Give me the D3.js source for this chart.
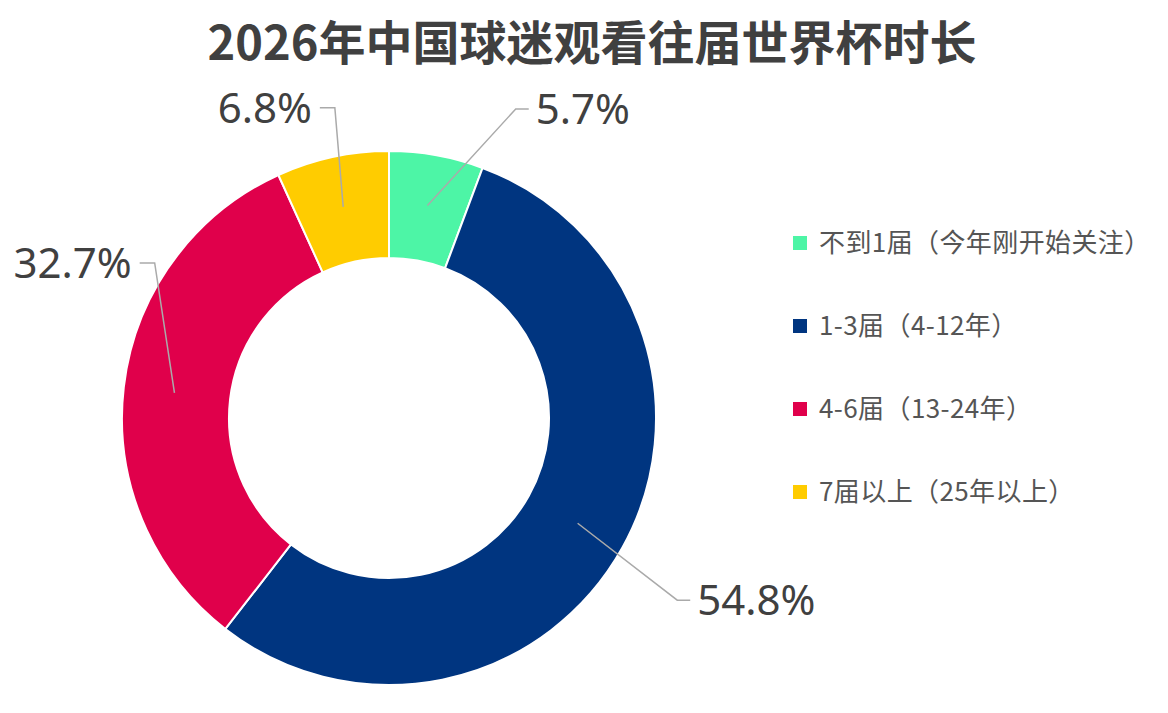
<!DOCTYPE html>
<html>
<head>
<meta charset="utf-8">
<script src="https://cdn.jsdelivr.net/npm/d3@7"></script>
<style>
  body { margin: 0; background: #fff; }
  svg { display: block; }
</style>
</head>
<body>
<div id="chart"></div>
<script>
// chart values
const categories = ['不到1届（今年刚开始关注）', '1-3届（4-12年）', '4-6届（13-24年）', '7届以上（25年以上）'];
const shares = [5.7, 54.8, 32.7, 6.8];
const colors = ['#4DF5A6', '#003580', '#E0004B', '#FFCC00'];

// where each label's leader line bends (degrees from 12 o'clock, radius in px)
const labelBend = [
    { angle: 22.3, r: 334 },
    { angle: 122.3, r: 341 },
    { angle: -56.5, r: 281 },
    { angle: -9.9, r: 315 }
];

const width = 1168;
const height = 713;
const cx = 389, cy = 418;
const outerR = 267, innerR = 160;

const svg = d3.select('#chart')
    .append('svg')
    .attr('width', width)
    .attr('height', height);

svg.append('text')
    .attr('x', 592)
    .attr('y', 60)
    .attr('text-anchor', 'middle')
    .attr('font-family', '"Noto Sans CJK SC", "Noto Sans", sans-serif')
    .attr('font-weight', 700)
    .attr('font-size', 47)
    .attr('fill', '#404040')
    .text('2026年中国球迷观看往届世界杯时长');

const pie = d3.pie().sort(null).value(d => d);
const arcs = pie(shares);

const arc = d3.arc().innerRadius(innerR).outerRadius(outerR);
const midArc = d3.arc().innerRadius(216).outerRadius(216);

const g = svg.append('g').attr('transform', `translate(${cx},${cy})`);

g.selectAll('path.slice')
    .data(arcs)
    .enter()
    .append('path')
    .attr('class', 'slice')
    .attr('d', arc)
    .attr('fill', (d, i) => colors[i])
    .attr('stroke', '#fff')
    .attr('stroke-width', 2);

// leader lines and value labels
const polar = (a, r) => [r * Math.sin(a * Math.PI / 180), -r * Math.cos(a * Math.PI / 180)];

arcs.forEach((d, i) => {
    const start = midArc.centroid(d);
    const bend = polar(labelBend[i].angle, labelBend[i].r);
    const right = bend[0] > 0;
    const end = [bend[0] + (right ? 13 : -15), bend[1]];

    g.append('polyline')
        .attr('points', [start, bend, end].map(p => p.join(',')).join(' '))
        .attr('fill', 'none')
        .attr('stroke', '#aaaaaa')
        .attr('stroke-width', 1.5);

    g.append('text')
        .attr('x', end[0] + (right ? 7 : -8))
        .attr('y', end[1])
        .attr('dy', '0.36em')
        .attr('text-anchor', right ? 'start' : 'end')
        .attr('font-family', '"Noto Sans", sans-serif')
        .attr('font-size', 42)
        .attr('fill', '#404040')
        .text(shares[i].toFixed(1) + '%');
});

// legend
const legend = svg.append('g').attr('transform', 'translate(793,243)');
const item = legend.selectAll('g')
    .data(categories)
    .enter()
    .append('g')
    .attr('transform', (d, i) => `translate(0,${i * 83})`);

item.append('rect')
    .attr('x', 0)
    .attr('y', -7)
    .attr('width', 14)
    .attr('height', 14)
    .attr('fill', (d, i) => colors[i]);

item.append('text')
    .attr('x', 26)
    .attr('y', 0)
    .attr('dy', '0.36em')
    .attr('font-family', '"Noto Sans CJK SC", "Noto Sans", sans-serif')
    .attr('font-size', 26)
    .attr('letter-spacing', 0.4)
    .attr('fill', '#555555')
    .text(d => d);
</script>
</body>
</html>
